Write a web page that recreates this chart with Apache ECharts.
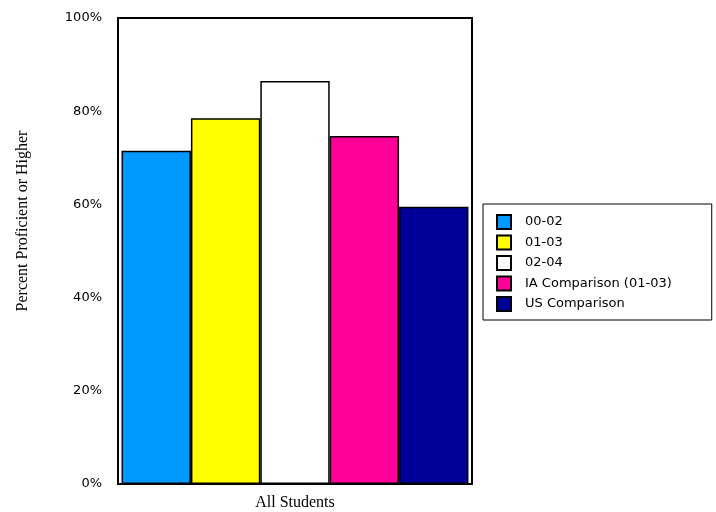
<!DOCTYPE html>
<html><head><meta charset="utf-8">
<script src="https://cdn.jsdelivr.net/npm/echarts@6/dist/echarts.min.js"></script>
<style>html,body{margin:0;padding:0;background:#fff;}#c{width:716px;height:512px;}</style>
</head><body><div id="c"></div>
<script>
const categories = ['All Students'];
const seriesNames = ['00-02', '01-03', '02-04', 'IA Comparison (01-03)', 'US Comparison'];
const seriesValues = [[71.5], [78.5], [86.5], [74.7], [59.5]];
const seriesColors = ['#0099ff', '#ffff00', '#ffffff', '#ff0099', '#000099'];
const yTicks = [0, 20, 40, 60, 80, 100];
const yAxisTitle = 'Percent Proficient or Higher';

const chart = echarts.init(document.getElementById('c'), null, {renderer: 'canvas'});
chart.setOption({
  animation: false,
  backgroundColor: '#fff',
  grid: {left: 118, top: 18, width: 354, height: 466, show: true, borderColor: '#000', borderWidth: 2, backgroundColor: 'transparent'},
  legend: {
    orient: 'vertical', left: 483, top: 204,
    padding: [10, 40, 8, 13],
    borderColor: '#000', borderWidth: 1,
    itemWidth: 14, itemHeight: 14, itemGap: 4.5,
    icon: 'rect',
    textStyle: {fontFamily: 'DejaVu Sans', fontSize: 13, lineHeight: 14, color: '#000', padding: [0, 0, 0, 9]},
    data: seriesNames
  },
  graphic: [{
    type: 'text', x: 23, y: 221, rotation: Math.PI / 2,
    style: {text: yAxisTitle, fontFamily: 'Liberation Serif', fontSize: 16, fill: '#000', align: 'center', verticalAlign: 'middle'}
  }],
  xAxis: {
    type: 'category', data: categories,
    axisLine: {show: false}, axisTick: {show: false},
    axisLabel: {fontFamily: 'Liberation Serif', fontSize: 16, color: '#000', margin: 11}
  },
  yAxis: {
    type: 'value', min: yTicks[0], max: yTicks[yTicks.length - 1], interval: 20,
    axisLine: {show: false}, axisTick: {show: false}, splitLine: {show: false},
    axisLabel: {formatter: '{value}%', fontFamily: 'DejaVu Sans', fontSize: 13, color: '#000', margin: 16}
  },
  series: seriesNames.map((n, i) => ({
    name: n, type: 'bar', data: seriesValues[i],
    barGap: '0%', barCategoryGap: '2%',
    itemStyle: {color: seriesColors[i], borderColor: '#000', borderWidth: 1.5}
  }))
});
</script></body></html>
